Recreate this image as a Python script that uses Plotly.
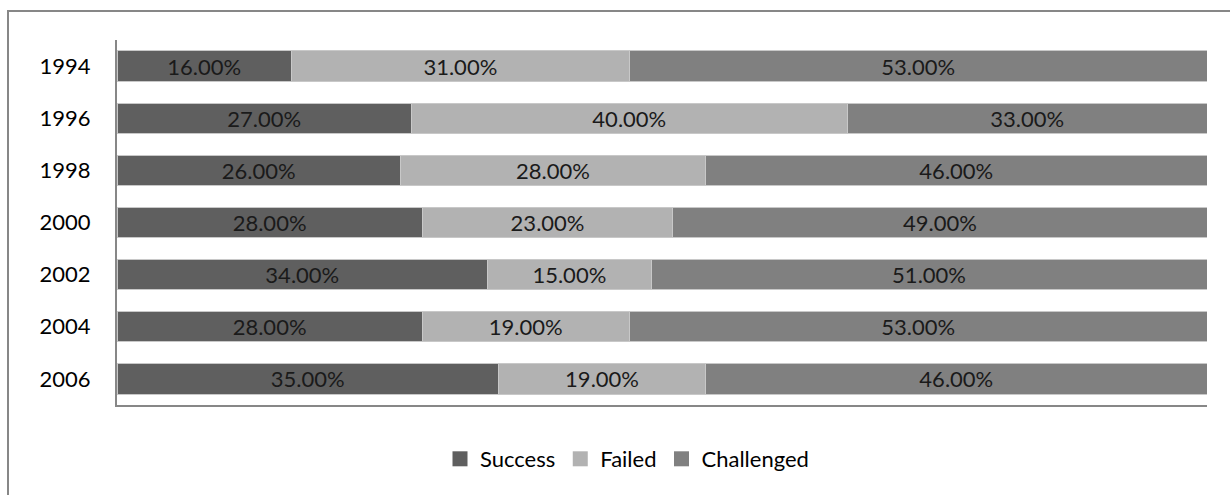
import plotly.graph_objects as go

years = ["1994", "1996", "1998", "2000", "2002", "2004", "2006"]
success = [16, 27, 26, 28, 34, 28, 35]
failed = [31, 40, 28, 23, 15, 19, 19]
challenged = [53, 33, 46, 49, 51, 53, 46]

series = [
    ("Success", success, "#5f5f5f"),
    ("Failed", failed, "#b2b2b2"),
    ("Challenged", challenged, "#808080"),
]

FONT = "Lato, 'Open Sans', sans-serif"
FS = 22

fig = go.Figure()
for name, vals, color in series:
    fig.add_trace(go.Bar(
        y=years, x=vals, name=name, orientation="h",
        marker=dict(color=color, line=dict(color="#c8c8c8", width=1)),
        text=[f"{v:.2f}%" for v in vals],
        textposition="inside", insidetextanchor="middle",
        constraintext="none",
        textfont=dict(family=FONT, size=FS, color="#1a1a1a"),
        hoverinfo="skip", showlegend=False,
    ))
# legend entries with larger square swatches
for name, vals, color in series:
    fig.add_trace(go.Scatter(
        x=[None], y=[None], mode="markers", name=name,
        marker=dict(symbol="square", size=15, color=color),
        hoverinfo="skip", showlegend=True,
    ))

W, H = 1230, 495
L, R, T, B = 117, 23, 40, 90
pw, ph = W - L - R, H - T - B

fig.update_layout(
    width=W, height=H,
    barmode="stack", bargap=0.42,
    margin=dict(l=L, r=R, t=T, b=B),
    paper_bgcolor="white", plot_bgcolor="white",
    font=dict(family=FONT, size=FS, color="#000000"),
    uniformtext=dict(mode=False),
    xaxis=dict(range=[0, 100], showgrid=False, zeroline=False, showticklabels=False,
               showline=True, linecolor="#878787", linewidth=2, ticks=""),
    yaxis=dict(autorange="reversed", showgrid=False, zeroline=False,
               showline=True, linecolor="#878787", linewidth=2, ticks="",
               ticklabelstandoff=20,
               tickfont=dict(family=FONT, size=FS, color="#000000")),
    legend=dict(orientation="h", x=(627 - L) / pw, xanchor="center",
                y=(405 - 459) / ph, yanchor="middle",
                font=dict(family=FONT, size=FS), traceorder="normal",
                itemwidth=30, itemsizing="trace"),
    showlegend=True,
    shapes=[dict(type="rect", xref="paper", yref="paper",
                 x0=(8 - L) / pw, x1=1.2, y0=-0.5, y1=(405 - 11) / ph,
                 line=dict(color="#878787", width=2), layer="below")],
)

fig.write_html("out.html")
